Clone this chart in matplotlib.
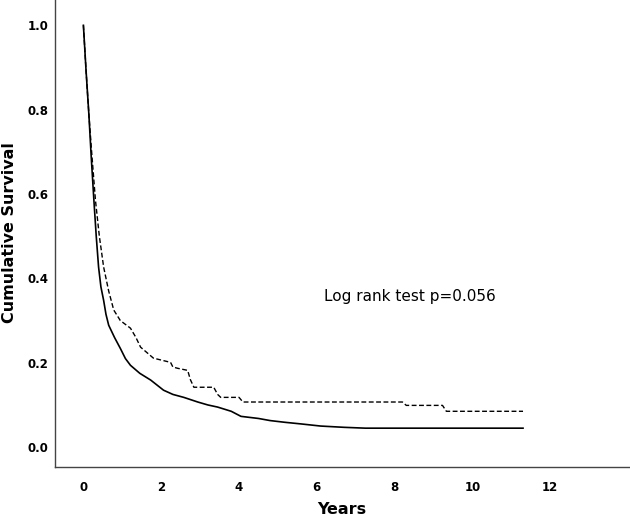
import matplotlib
matplotlib.use("Agg")
import matplotlib.pyplot as plt

# group 1 (solid)
t_solid = [0, 0.07, 0.14, 0.2, 0.27, 0.33, 0.39, 0.45, 0.52, 0.58, 0.65, 0.8, 0.95, 1.08, 1.21,
           1.45, 1.73, 2.06, 2.3, 2.58, 2.94, 3.2, 3.45, 3.8, 4.05, 4.5, 4.8, 5.17, 5.6, 6.1,
           6.7, 7.25, 11.3]
s_solid = [1.0, 0.89, 0.79, 0.69, 0.585, 0.50, 0.427, 0.38, 0.348, 0.315, 0.289, 0.26, 0.234,
           0.21, 0.194, 0.175, 0.159, 0.135, 0.125, 0.118, 0.107, 0.1, 0.095, 0.085, 0.073,
           0.068, 0.063, 0.059, 0.055, 0.05, 0.047, 0.045, 0.045]

# group 2 (dashed)
t_dash = [0, 0.07, 0.14, 0.22, 0.31, 0.41, 0.52, 0.65, 0.78, 0.95, 1.21, 1.35, 1.47, 1.8, 2.24,
          2.3, 2.42, 2.68, 2.75, 2.84, 3.35, 3.45, 3.53, 4.0, 4.1, 8.2, 8.3, 9.23, 9.33, 11.3]
s_dash = [1.0, 0.89, 0.79, 0.69, 0.585, 0.50, 0.427, 0.37, 0.325, 0.30, 0.282, 0.26, 0.237,
          0.211, 0.201, 0.19, 0.187, 0.182, 0.16, 0.142, 0.142, 0.125, 0.118, 0.118, 0.107,
          0.107, 0.099, 0.099, 0.085, 0.085]

x_ticks = [0, 2, 4, 6, 8, 10, 12]
y_ticks = [0.0, 0.2, 0.4, 0.6, 0.8, 1.0]

fig = plt.figure(figsize=(6.3, 5.18), dpi=100)
ax = fig.add_axes([0.0873, 0.0985, 0.9127, 0.9015])

ax.plot(t_solid, s_solid, color="black", lw=1.2)
ax.plot(t_dash, s_dash, color="black", lw=1.0, linestyle=(0, (3.5, 1.8)))

ax.set_xlim(-0.73, 14.05)
ax.set_ylim(-0.047, 1.06)
ax.set_xticks(x_ticks)
ax.set_xticklabels([str(v) for v in x_ticks])
ax.set_yticks(y_ticks)
ax.set_yticklabels([f"{v:.1f}" for v in y_ticks])
ax.tick_params(length=0, labelsize=8.5)
ax.tick_params(axis="x", pad=10)
ax.tick_params(axis="y", pad=4.5)
for lbl in ax.get_xticklabels() + ax.get_yticklabels():
    lbl.set_fontweight("bold")

for side in ["top", "right"]:
    ax.spines[side].set_visible(False)
for side in ["left", "bottom"]:
    ax.spines[side].set_color("#444444")
    ax.spines[side].set_linewidth(1.0)

fig.text(342 / 630, 1 - 509 / 518, "Years", fontsize=11.5, fontweight="bold",
         ha="center", va="center")
fig.text(10 / 630, 1 - 233 / 518, "Cumulative Survival", fontsize=11.5, fontweight="bold",
         ha="center", va="center", rotation=90)

ax.text(8.38, 0.358, "Log rank test p=0.056", fontsize=11, ha="center", va="center")

fig.savefig("out.png", dpi=100)
